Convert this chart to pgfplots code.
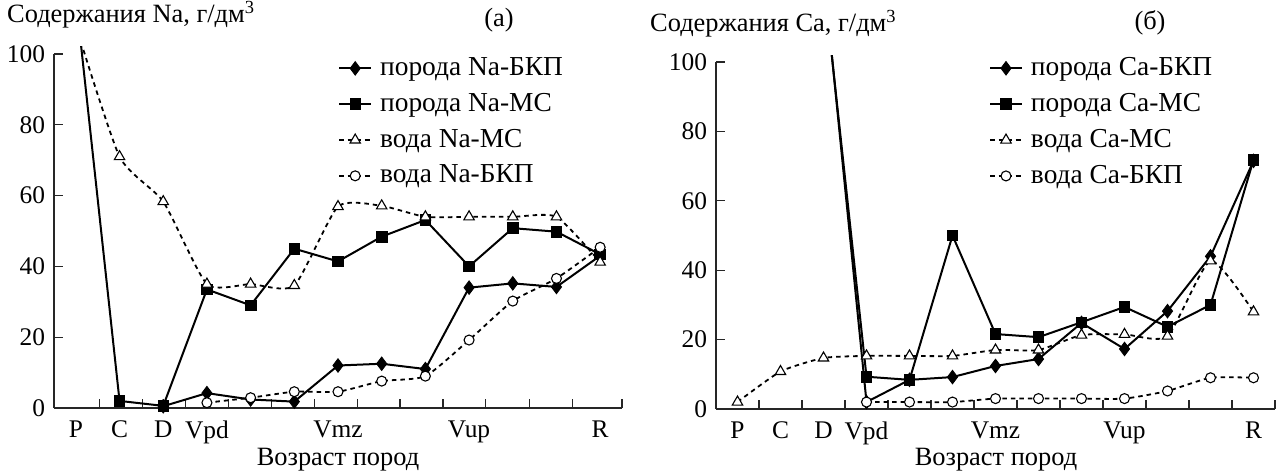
\documentclass[border=0pt]{standalone}
\usepackage{fontspec}
\setmainfont{Liberation Serif}
\usepackage{pgfplots}
\pgfplotsset{compat=1.18}
\newcommand{\bigfont}{\fontsize{26.5}{31}\selectfont}
\newcommand{\legfont}{\fontsize{27.5}{31}\selectfont}
\newcommand{\tickfont}{\fontsize{25.5}{30}\selectfont}
\pgfplotsset{
  legend image code/.code={\draw[mark repeat=2,mark phase=2,#1] plot coordinates {(0bp,0bp) (16bp,0bp) (32bp,0bp)}; \path (38bp,0bp);},
  rockB/.style={solid, line width=2bp, black, mark=diamond*, mark size=6.8bp, mark options={solid, fill=black, line width=0.8bp}},
  rockM/.style={solid, line width=2bp, black, mark=square*, mark size=5.3bp, mark options={solid, fill=black, line width=0.8bp}},
  waterM/.style={dash pattern=on 4.5bp off 4bp, line width=1.8bp, black, smooth, tension=0.35, mark=triangle*, mark size=6bp, mark options={solid, fill=white, line width=1.1bp}},
  waterB/.style={dash pattern=on 4.5bp off 4bp, line width=1.8bp, black, smooth, tension=0.35, mark=*, mark size=5bp, mark options={solid, fill=white, line width=1.1bp}},
  panel/.style={
    scale only axis, anchor=south west,
    xmin=-0.5, xmax=12.5, ymin=-5, ymax=102,
    axis x line=middle, axis y line=left,
    axis line style={-, line width=1.3bp, black!85},
    hide obscured x ticks=false, hide obscured y ticks=false,
    clip marker paths=true,
    tick align=inside,
    major tick length=9bp, minor tick length=9bp,
    tick style={line width=1.3bp, black!85},
    xticklabels={},
    extra x ticks={0,1,2,3,6,9,12},
    extra x tick labels={P,C,D,Vpd,Vmz,Vup,R},
    extra x tick style={major tick length=0pt},
    ytick={0,20,...,100},
    /pgf/number format/assume math mode=true,
    tick label style={font=\tickfont},
    xticklabel style={yshift=-4bp},
    legend cell align=left,
    legend style={draw=none, fill=none, anchor=north west, inner sep=0pt, row sep=9.8bp, font=\legfont},
  },
}
\begin{document}
\bigfont
\begin{tikzpicture}
\path[use as bounding box] (0,0) rectangle (1281bp,474bp);
\begin{axis}[panel, at={(54bp,48.3bp)}, width=568bp, height=378.8bp,
  xtick={0.54,1.53,2.51,3.49,4.47,5.46,6.44,7.42,8.40,9.38,10.38,11.36,12.5},
  y axis line style={shorten <=17.7bp, shorten >=7.1bp},
  legend style={at={(0.5,0.978)}}]
\addplot[rockB] coordinates {(2,0.5) (3,4.2) (4,2.4) (5,1.8) (6,12) (7,12.5) (8,11) (9,34) (10,35.2) (11,34.2) (12,43)};
\addplot[rockM] coordinates {(0,116) (1,2) (2,0.6) (3,33.5) (4,29) (5,45) (6,41.4) (7,48.4) (8,53.1) (9,40) (10,50.8) (11,49.8) (12,43.4)};
\addplot[waterM] coordinates {(0,108) (1,71) (2,58.3) (3,35) (4,35) (5,34.6) (6,56.9) (7,57.1) (8,54) (9,54) (10,54) (11,54) (12,41.2)};
\addplot[waterB] coordinates {(3,1.5) (4,2.9) (5,4.6) (6,4.6) (7,7.6) (8,9) (9,19.2) (10,30.2) (11,36.6) (12,45.4)};
\legend{порода Na-БКП, порода Na-МС, вода Na-МС, вода Na-БКП}
\end{axis}
\begin{axis}[panel, at={(716bp,47.65bp)}, width=559bp, height=371.3bp,
  xtick={0.5,1.5,...,12.5},
  y axis line style={shorten <=17.35bp, shorten >=6.94bp},
  legend style={at={(0.488,1.0)}}]
\addplot[rockB] coordinates {(2,126) (3,2) (4,8.4) (5,9.2) (6,12.4) (7,14.4) (8,24.8) (9,17.3) (10,28.2) (11,44) (12,71.5)};
\addplot[rockM] coordinates {(2,124) (3,9.3) (4,8.4) (5,50) (6,21.6) (7,20.7) (8,25) (9,29.4) (10,23.7) (11,30) (12,71.8)};
\addplot[waterM] coordinates {(0,2) (1,10.8) (2,14.7) (3,15.3) (4,15.3) (5,15.3) (6,17) (7,17) (8,21.3) (9,21.5) (10,21) (11,42.7) (12,28)};
\addplot[waterB] coordinates {(3,2) (4,2) (5,2) (6,3) (7,3) (8,3) (9,3) (10,5.2) (11,9) (12,9)};
\legend{порода Ca-БКП, порода Ca-МС, вода Ca-МС, вода Ca-БКП}
\end{axis}
\node[anchor=base west, inner sep=0pt] at (7bp,451bp) {Содержания Na, г/дм\textsuperscript{3}};
\node[anchor=base, inner sep=0pt] at (499bp,447bp) {(а)};
\node[anchor=base west, inner sep=0pt] at (650bp,442bp) {Содержания Ca, г/дм\textsuperscript{3}};
\node[anchor=base, inner sep=0pt] at (1150bp,444bp) {(б)};
\node[anchor=base, inner sep=0pt] at (338bp,9bp) {Возраст пород};
\node[anchor=base, inner sep=0pt] at (996bp,9bp) {Возраст пород};
\end{tikzpicture}
\end{document}
